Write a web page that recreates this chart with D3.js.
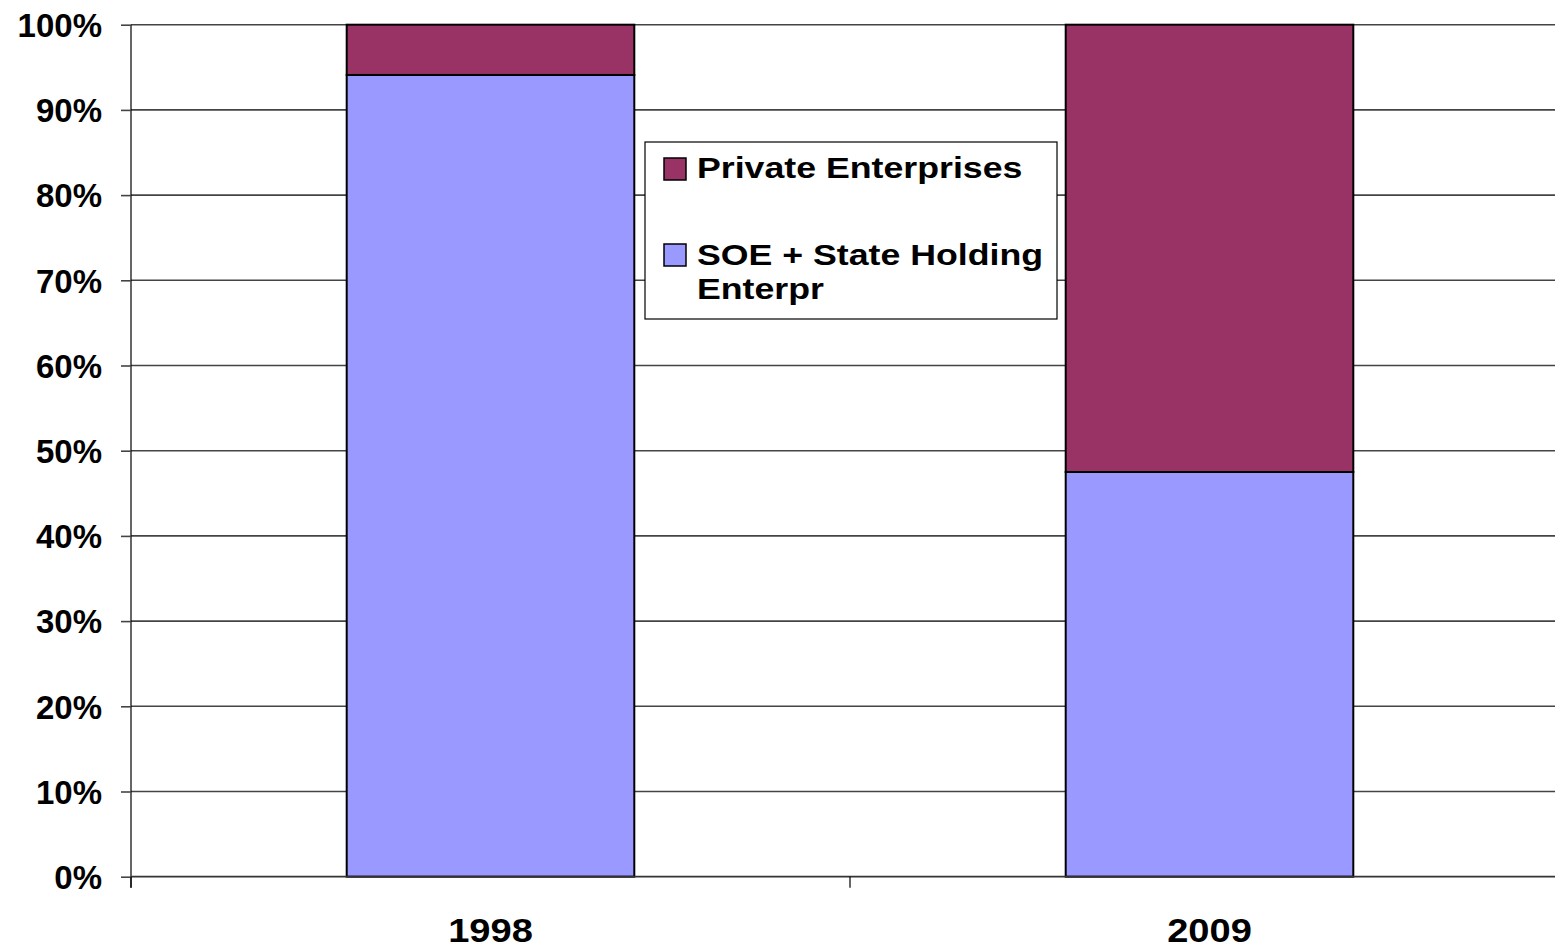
<!DOCTYPE html>
<html>
<head>
<meta charset="utf-8">
<script src="https://cdn.jsdelivr.net/npm/d3@7"></script>
<style>
  html, body { margin: 0; padding: 0; background: #fff; }
  svg { display: block; font-family: "Liberation Sans", Arial, sans-serif; font-weight: bold; }
</style>
</head>
<body>
<svg id="chart" width="1555" height="948"></svg>
<script>
// Share of enterprises by ownership type (percent of total)
const years = ["1998", "2009"];
const soeShare = [94.1, 47.5];       // SOE + State Holding Enterprises
const privateShare = [5.9, 52.5];    // Private Enterprises
const yTicks = [0, 10, 20, 30, 40, 50, 60, 70, 80, 90, 100];
const seriesNames = ["Private Enterprises", "SOE + State Holding Enterprises"];
const seriesColors = ["#993366", "#9999FF"];

const svg = d3.select("#chart");
const plotL = 131, plotR = 1569, plotT = 24.7, plotB = 876.7;

const x = d3.scaleBand().domain(years).range([plotL, plotR]).paddingInner(0).paddingOuter(0);
const y = d3.scaleLinear().domain([0, 100]).range([plotB, plotT]);
const barW = x.bandwidth() * 0.4;

// horizontal gridlines
svg.append("g")
  .selectAll("line")
  .data(yTicks.filter(d => d > 0))
  .join("line")
  .attr("x1", plotL).attr("x2", plotR)
  .attr("y1", d => y(d)).attr("y2", d => y(d))
  .attr("stroke", "#444").attr("stroke-width", 1.6);

// stacked bars
const rows = years.map((yr, i) => ({ year: yr, soe: soeShare[i], priv: privateShare[i] }));
const stack = d3.stack().keys(["soe", "priv"])(rows);
const keyColor = { soe: seriesColors[1], priv: seriesColors[0] };

svg.append("g")
  .selectAll("g")
  .data(stack)
  .join("g")
  .attr("fill", d => keyColor[d.key])
  .selectAll("rect")
  .data(d => d)
  .join("rect")
  .attr("x", d => x(d.data.year) + (x.bandwidth() - barW) / 2)
  .attr("width", barW)
  .attr("y", d => y(d[1]))
  .attr("height", d => y(d[0]) - y(d[1]))
  .attr("stroke", "#000")
  .attr("stroke-width", 2);

// y axis
const yAxis = d3.axisLeft(y).tickValues(yTicks).tickSize(10).tickFormat(d => d + "%");
const gy = svg.append("g").attr("transform", `translate(${plotL},0)`).call(yAxis);
gy.select(".domain").attr("stroke", "#000").attr("stroke-width", 1.2).attr("d", `M0,${plotB + 11}V${plotT}`);
gy.selectAll(".tick line").attr("stroke", "#444").attr("stroke-width", 1.6);
gy.selectAll(".tick text")
  .attr("x", -29).attr("dy", "0.36em")
  .attr("font-size", 33).attr("font-weight", "bold")
  .attr("font-family", "'Liberation Sans', Arial, sans-serif")
  .attr("fill", "#000");

// x axis
const gx = svg.append("g").attr("transform", `translate(0,${plotB})`);
gx.append("line").attr("x1", plotL).attr("x2", plotR).attr("stroke", "#333").attr("stroke-width", 1.8);
const boundaries = [plotL, plotL + x.step(), plotR];
gx.selectAll("line.tk")
  .data(boundaries)
  .join("line")
  .attr("class", "tk")
  .attr("x1", d => d).attr("x2", d => d)
  .attr("y1", 0).attr("y2", 11)
  .attr("stroke", "#000").attr("stroke-width", 1.2);
gx.selectAll("text")
  .data(years)
  .join("text")
  .attr("transform", d => `translate(${x(d) + x.bandwidth() / 2},65) scale(1.12,1)`)
  .attr("text-anchor", "middle")
  .attr("font-size", 34)
  .attr("fill", "#000")
  .text(d => d);

// legend
const lg = svg.append("g").attr("transform", "translate(645,142)");
lg.append("rect").attr("width", 412).attr("height", 177)
  .attr("fill", "#fff").attr("stroke", "#000").attr("stroke-width", 1.2);
const legendItems = [
  { color: seriesColors[0], lines: ["Private Enterprises"], sy: 16, ty: 36 },
  { color: seriesColors[1], lines: ["SOE + State Holding", "Enterpr"], sy: 102, ty: 123 }
];
legendItems.forEach(it => {
  lg.append("rect").attr("x", 19).attr("y", it.sy).attr("width", 22).attr("height", 22)
    .attr("fill", it.color).attr("stroke", "#000").attr("stroke-width", 1.5);
  const t = lg.append("text")
    .attr("transform", `translate(52,${it.ty}) scale(1.19,1)`)
    .attr("font-size", 30)
    .attr("fill", "#000");
  it.lines.forEach((ln, j) => {
    t.append("tspan").attr("x", 0).attr("dy", j === 0 ? 0 : 34).text(ln);
  });
});
</script>
</body>
</html>
